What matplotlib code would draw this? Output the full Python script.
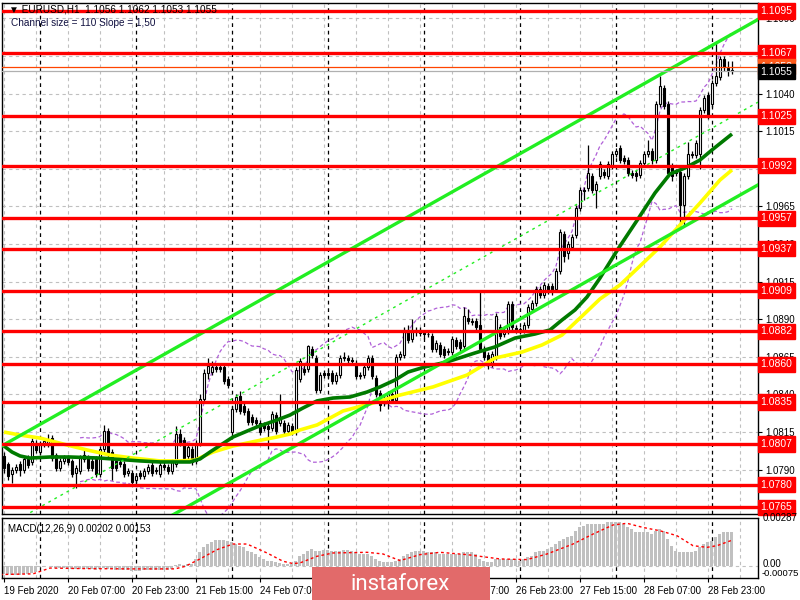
import numpy as np
import pandas as pd
import matplotlib
matplotlib.use("Agg")
import matplotlib.pyplot as plt
from matplotlib.transforms import blended_transform_factory
from matplotlib.patches import Rectangle

plt.rcParams['font.family'] = ['Liberation Sans', 'DejaVu Sans']

# ---------------- data ----------------
opens = [1.0799,1.0794,1.0787,1.0790,1.0794,1.0790,1.0797,1.0795,1.0808,1.0802,
         1.0807,1.0807,1.0811,1.0800,1.0791,1.0796,1.0798,1.0796,1.0788,1.0789,
         1.0797,1.0798,1.0796,1.0797,1.0787,1.0804,1.0816,1.0802,1.0796,1.0795,
         1.0794,1.0788,1.0788,1.0783,1.0788,1.0786,1.0789,1.0793,1.0790,1.0787,
         1.0793,1.0792,1.0789,1.0794,1.0814,1.0810,1.0799,1.0804,1.0796,1.0808,
         1.0837,1.0854,1.0855,1.0858,1.0858,1.0858,1.0850,1.0815,1.0830,1.0839,
         1.0832,1.0829,1.0825,1.0823,1.0821,1.0820,1.0819,1.0818,1.0826,1.0821,
         1.0821,1.0816,1.0819,1.0815,1.0850,1.0857,1.0857,1.0870,1.0864,1.0843,
         1.0854,1.0854,1.0854,1.0849,1.0853,1.0864,1.0864,1.0863,1.0861,1.0853,
         1.0853,1.0858,1.0864,1.0851,1.0841,1.0835,1.0835,1.0840,1.0836,1.0865,
         1.0866,1.0883,1.0877,1.0882,1.0883,1.0881,1.0880,1.0879,1.0870,1.0873,
         1.0870,1.0868,1.0868,1.0876,1.0875,1.0872,1.0891,1.0889,1.0889,1.0886,
         1.0870,1.0866,1.0861,1.0865,1.0885,1.0880,1.0882,1.0900,1.0884,1.0883,
         1.0883,1.0886,1.0897,1.0901,1.0910,1.0906,1.0912,1.0912,1.0910,1.0922,
         1.0947,1.0934,1.0938,1.0946,1.0964,1.0976,1.0977,1.0985,1.0976,1.0985,
         1.0988,1.0985,1.0992,1.1000,1.1004,1.0997,1.0996,1.0987,1.0987,1.0986,
         1.0994,1.1000,1.1002,1.0996,1.1033,1.1044,1.1033,1.0992,1.0988,1.0988,
         1.0966,1.0985,1.1000,1.0999,1.1000,1.1029,1.1039,1.1033,1.1047,1.1051,
         1.1063,1.1057,1.1056]
highs = [1.0802,1.0795,1.0792,1.0794,1.0796,1.0799,1.0800,1.0811,1.0810,1.0809,
         1.0810,1.0814,1.0813,1.0801,1.0798,1.0800,1.0800,1.0797,1.0793,1.0800,
         1.0803,1.0800,1.0798,1.0799,1.0806,1.0820,1.0818,1.0804,1.0798,1.0797,
         1.0796,1.0791,1.0790,1.0788,1.0790,1.0791,1.0794,1.0795,1.0792,1.0795,
         1.0795,1.0794,1.0797,1.0819,1.0817,1.0812,1.0807,1.0806,1.0810,1.0840,
         1.0857,1.0864,1.0862,1.0860,1.0860,1.0860,1.0852,1.0832,1.0840,1.0842,
         1.0834,1.0831,1.0827,1.0825,1.0823,1.0822,1.0821,1.0829,1.0828,1.0840,
         1.0823,1.0822,1.0821,1.0858,1.0864,1.0860,1.0873,1.0872,1.0866,1.0855,
         1.0856,1.0856,1.0856,1.0855,1.0866,1.0868,1.0866,1.0865,1.0863,1.0855,
         1.0860,1.0866,1.0866,1.0853,1.0843,1.0839,1.0842,1.0842,1.0867,1.0869,
         1.0885,1.0886,1.0890,1.0885,1.0885,1.0883,1.0882,1.0881,1.0876,1.0875,
         1.0872,1.0871,1.0879,1.0878,1.0877,1.0898,1.0897,1.0891,1.0891,1.0909,
         1.0872,1.0868,1.0869,1.0894,1.0887,1.0884,1.0902,1.0902,1.0886,1.0885,
         1.0888,1.0900,1.0903,1.0912,1.0912,1.0915,1.0914,1.0914,1.0924,1.0950,
         1.0949,1.0942,1.0947,1.0966,1.0978,1.0978,1.1006,1.0987,1.0982,1.0995,
         1.0990,1.0995,1.1002,1.1004,1.1006,1.0999,1.0998,1.0989,1.0989,1.0996,
         1.1002,1.1009,1.1004,1.1035,1.1052,1.1046,1.1035,1.0994,1.0990,1.0990,
         1.0987,1.1008,1.1002,1.1009,1.1031,1.1039,1.1041,1.1049,1.1074,1.1065,
         1.1065,1.1062,1.1062]
lows = [1.0788,1.0783,1.0781,1.0788,1.0786,1.0788,1.0791,1.0793,1.0801,1.0800,
        1.0805,1.0805,1.0796,1.0789,1.0789,1.0794,1.0793,1.0785,1.0778,1.0787,
        1.0795,1.0789,1.0789,1.0785,1.0785,1.0802,1.0798,1.0783,1.0789,1.0792,
        1.0785,1.0786,1.0780,1.0781,1.0784,1.0784,1.0787,1.0786,1.0787,1.0785,
        1.0790,1.0787,1.0787,1.0792,1.0806,1.0796,1.0797,1.0793,1.0794,1.0806,
        1.0835,1.0850,1.0853,1.0855,1.0855,1.0847,1.0844,1.0812,1.0828,1.0827,
        1.0826,1.0820,1.0820,1.0819,1.0813,1.0816,1.0804,1.0816,1.0814,1.0819,
        1.0814,1.0814,1.0813,1.0813,1.0848,1.0853,1.0855,1.0864,1.0841,1.0841,
        1.0851,1.0851,1.0847,1.0847,1.0851,1.0862,1.0861,1.0860,1.0850,1.0850,
        1.0851,1.0856,1.0850,1.0838,1.0829,1.0832,1.0830,1.0834,1.0834,1.0863,
        1.0864,1.0874,1.0875,1.0879,1.0879,1.0877,1.0878,1.0868,1.0868,1.0865,
        1.0864,1.0866,1.0866,1.0870,1.0869,1.0870,1.0887,1.0886,1.0883,1.0868,
        1.0863,1.0857,1.0858,1.0863,1.0877,1.0878,1.0880,1.0883,1.0881,1.0881,
        1.0881,1.0884,1.0895,1.0899,1.0904,1.0904,1.0907,1.0906,1.0908,1.0920,
        1.0928,1.0930,1.0936,1.0944,1.0962,1.0969,1.0975,1.0974,1.0964,1.0983,
        1.0984,1.0983,1.0990,1.0998,1.0994,1.0993,1.0985,1.0984,1.0982,1.0984,
        1.0992,1.0998,1.0993,1.0994,1.1031,1.1030,1.0985,1.0982,1.0985,1.0950,
        1.0952,1.0983,1.0997,1.0997,1.0990,1.1027,1.1023,1.1031,1.1045,1.1049,
        1.1055,1.1052,1.1053]
closes = [1.0791,1.0786,1.0790,1.0792,1.0790,1.0797,1.0793,1.0809,1.0803,1.0807,
          1.0809,1.0810,1.0798,1.0791,1.0796,1.0798,1.0795,1.0787,1.0791,1.0798,
          1.0800,1.0791,1.0791,1.0787,1.0804,1.0816,1.0800,1.0791,1.0791,1.0794,
          1.0787,1.0789,1.0782,1.0786,1.0786,1.0789,1.0792,1.0788,1.0789,1.0793,
          1.0792,1.0789,1.0795,1.0814,1.0808,1.0798,1.0805,1.0795,1.0808,1.0837,
          1.0854,1.0859,1.0858,1.0857,1.0857,1.0849,1.0846,1.0830,1.0838,1.0829,
          1.0828,1.0822,1.0822,1.0821,1.0815,1.0818,1.0817,1.0827,1.0816,1.0825,
          1.0816,1.0820,1.0815,1.0856,1.0862,1.0855,1.0872,1.0866,1.0843,1.0853,
          1.0853,1.0853,1.0849,1.0853,1.0864,1.0865,1.0863,1.0862,1.0852,1.0852,
          1.0858,1.0864,1.0852,1.0840,1.0833,1.0837,1.0840,1.0836,1.0865,1.0867,
          1.0883,1.0876,1.0882,1.0882,1.0881,1.0880,1.0880,1.0870,1.0874,1.0867,
          1.0866,1.0869,1.0877,1.0872,1.0871,1.0892,1.0889,1.0888,1.0885,1.0870,
          1.0865,1.0860,1.0867,1.0892,1.0879,1.0882,1.0900,1.0885,1.0883,1.0883,
          1.0886,1.0898,1.0901,1.0910,1.0906,1.0913,1.0909,1.0908,1.0922,1.0948,
          1.0932,1.0940,1.0945,1.0964,1.0976,1.0975,1.0987,1.0976,1.0980,1.0993,
          1.0986,1.0993,1.1000,1.1002,1.0996,1.0995,1.0987,1.0986,1.0985,1.0994,
          1.1000,1.1002,1.0996,1.1033,1.1045,1.1032,1.0987,1.0985,1.0987,1.0966,
          1.0985,1.1000,1.0999,1.1007,1.1029,1.1037,1.1026,1.1047,1.1052,1.1063,
          1.1058,1.1056,1.1055]

# moving averages (vertices: bar index, price)
ma_green_bars = [0,2,4,6.5,11.5,16.5,24,34,39,46.5,49,51.5,57.25,63.25,68.25,71.5,
                 74.75,78.25,82.25,86.5,90.75,94,97.75,101,105.25,110.75,117.75,
                 122.75,127.75,132.75,136.5,139.5,142.75,145.75,149,153.5,158.5,
                 162.75,166.5,170.25,174,177,179.5,182]
ma_green_vals = [1.08057,1.08017,1.07991,1.07977,1.07984,1.07984,1.07977,1.07958,
                 1.07951,1.07951,1.07971,1.08017,1.08117,1.08184,1.08230,1.08263,
                 1.08310,1.08357,1.08376,1.08383,1.08416,1.08450,1.08496,1.08549,
                 1.08583,1.08616,1.08676,1.08716,1.08775,1.08802,1.08829,1.08895,
                 1.08962,1.09048,1.09174,1.09367,1.09567,1.09740,1.09866,1.09906,
                 1.09959,1.10026,1.10079,1.10132]
ma_yellow_bars = [0,4,9,15.75,20.75,26.5,32.25,39,44,47.75,52.25,57.25,63.25,68.25,
                  71.5,74,78.25,81.5,84.75,92.25,99,107.25,115.75,122.75,129.5,134.5,
                  139.5,144,149,154,159,164,169,174,179,182]
ma_yellow_vals = [1.08150,1.08130,1.08110,1.08064,1.08031,1.07997,1.07977,1.07958,
                  1.07958,1.07964,1.08017,1.08057,1.08091,1.08117,1.08137,1.08164,
                  1.08197,1.08243,1.08290,1.08343,1.08396,1.08450,1.08529,1.08642,
                  1.08682,1.08729,1.08795,1.08908,1.09035,1.09128,1.09254,1.09381,
                  1.09527,1.09673,1.09826,1.09893]

# equidistant channel: size 110 pips, slope 1.50 pips per bar
channel_start_bar = -1.0
channel_end_bar = 188.5
channel_start_top = 1.08051
channel_slope = 0.000150
channel_size = 0.0110

# support / resistance levels
levels = [1.1095,1.1067,1.1025,1.0992,1.0957,1.0937,1.0909,1.0882,1.0860,
          1.0835,1.0807,1.0780,1.0765]
ask_price = 1.1058
bid_price = 1.1055

price_ticks = [1.0765,1.0790,1.0815,1.0840,1.0865,1.0890,1.0915,1.0940,1.0965,
               1.0990,1.1015,1.1040,1.1065,1.1090]

# MACD main (histogram) per bar
macd = [-0.00050,-0.00052,-0.00054,-0.00055,-0.00054,-0.00052,-0.00050,-0.00045,-0.00040,-0.00010,
        -0.00008,-0.00005,-0.00008,-0.00012,-0.00015,-0.00015,-0.00018,-0.00020,-0.00022,-0.00020,
        -0.00018,-0.00020,-0.00022,-0.00024,-0.00020,-0.00015,-0.00018,-0.00022,-0.00024,-0.00025,
        -0.00026,-0.00028,-0.00030,-0.00030,-0.00030,-0.00029,-0.00028,-0.00028,-0.00028,-0.00027,
        -0.00026,-0.00026,-0.00022,0.00005,0.00008,0.00006,0.00008,0.00010,0.00040,0.00080,
        0.00110,0.00130,0.00145,0.00152,0.00157,0.00157,0.00150,0.00140,0.00130,0.00120,
        0.00110,0.00090,0.00080,0.00070,0.00050,0.00040,0.00030,0.00030,0.00020,0.00015,
        0.00010,0.00010,0.00010,0.00030,0.00060,0.00070,0.00090,0.00100,0.00090,0.00090,
        0.00095,0.00095,0.00090,0.00090,0.00090,0.00095,0.00095,0.00090,0.00080,0.00070,
        0.00070,0.00070,0.00060,0.00040,0.00030,0.00020,0.00020,0.00020,0.00030,0.00040,
        0.00060,0.00070,0.00080,0.00090,0.00090,0.00090,0.00080,0.00080,0.00080,0.00070,
        0.00070,0.00070,0.00070,0.00070,0.00070,0.00080,0.00080,0.00080,0.00070,0.00040,
        0.00030,0.00020,0.00020,0.00040,0.00040,0.00040,0.00040,0.00040,0.00040,0.00030,
        0.00040,0.00050,0.00060,0.00080,0.00090,0.00090,0.00100,0.00110,0.00130,0.00150,
        0.00160,0.00170,0.00180,0.00210,0.00230,0.00240,0.00250,0.00250,0.00250,0.00250,
        0.00250,0.00260,0.00260,0.00260,0.00260,0.00250,0.00230,0.00220,0.00200,0.00200,
        0.00200,0.00200,0.00190,0.00210,0.00220,0.00210,0.00160,0.00120,0.00090,0.00080,
        0.00080,0.00080,0.00080,0.00090,0.00110,0.00130,0.00140,0.00150,0.00170,0.00190,
        0.00200,0.00200,0.00202]
# MACD signal line vertices (bar index, value)
signal_bars = [-1,7.25,11.5,19,31.5,42.75,45.25,49,53.25,57.25,60.75,65.75,69.75,
               72.25,74,78.25,82.25,90.75,94.75,99,104,109,115.75,124,130.75,135.75,
               142.25,147.25,152.25,155.75,159.75,164,168.25,172.25,175.75,178.25,182]
signal_vals = [-0.00054,-0.00050,-0.00015,-0.00018,-0.00020,-0.00020,-0.00005,0.00040,
               0.00096,0.00130,0.00130,0.00076,0.00026,0.00012,0.00016,0.00056,0.00076,
               0.00080,0.00070,0.00030,0.00066,0.00080,0.00066,0.00040,0.00036,0.00070,
               0.00130,0.00190,0.00245,0.00255,0.00230,0.00210,0.00180,0.00120,0.00110,
               0.00120,0.00153]

date_label_bars = [0,16,32,48,64,80,96,112,128,144,160,176]
date_labels = ["19 Feb 2020","20 Feb 07:00","20 Feb 23:00","21 Feb 15:00",
               "24 Feb 07:00","24 Feb 23:00","25 Feb 15:00","26 Feb 07:00",
               "26 Feb 23:00","27 Feb 15:00","28 Feb 07:00","28 Feb 23:00"]
day_separator_bars = [9,33,57,81,105,129,153,177]
grid_bars = list(range(0, 185, 8))

# ---------------- figure ----------------
W, H = 800, 600
fig = plt.figure(figsize=(8, 6), dpi=100)
fig.patch.set_facecolor('white')
ax = fig.add_axes([2/W, (H-514)/H, 756/W, 511/H])
ax2 = fig.add_axes([2/W, (H-578)/H, 756/W, 60/H])

xmin, xmax = -0.5, 188.5
ax.set_xlim(xmin, xmax)
ax2.set_xlim(xmin, xmax)
ax.set_ylim(1.07605, 1.11003)
ax2.set_ylim(-0.00075, 0.00287)

n = len(closes)
idx = np.arange(n)
o = np.array(opens); h = np.array(highs); l = np.array(lows); c = np.array(closes)

gridc = '#c0c0c0'
for a in (ax, ax2):
    for gb in grid_bars:
        a.axvline(gb, color=gridc, lw=0.8, ls=(0, (3, 3)), zorder=0.5)
    for db in day_separator_bars:
        a.axvline(db, color='black', lw=0.9, ls=(0, (3, 3)), zorder=0.6)
for pt in price_ticks:
    ax.axhline(pt, color=gridc, lw=0.8, ls=(0, (3, 3)), zorder=0.5)
ax2.axhline(0, color=gridc, lw=0.8, ls=(0, (3, 3)), zorder=0.5)

# Bollinger bands (20, 2) from closes
s = pd.Series(closes)
mid = s.rolling(20).mean()
sd = s.rolling(20).std(ddof=0)
ax.plot(idx, mid + 2*sd, color='#b060d8', lw=0.9, ls=(0, (3, 2)), zorder=1)
ax.plot(idx, mid - 2*sd, color='#b060d8', lw=0.9, ls=(0, (3, 2)), zorder=1)

# candles
up = c >= o
ax.vlines(idx, l, h, color='black', lw=0.9, zorder=3)
bottoms = np.minimum(o, c)
heights = np.maximum(np.abs(c - o), 0.00002)
ax.bar(idx[up], heights[up], bottom=bottoms[up], width=0.7, color='white',
       edgecolor='black', lw=0.8, zorder=3.1)
ax.bar(idx[~up], heights[~up], bottom=bottoms[~up], width=0.7, color='black',
       edgecolor='black', lw=0.8, zorder=3.1)

# moving averages
ax.plot(ma_yellow_bars, ma_yellow_vals, color='#ffff00', lw=2.6, zorder=4,
        solid_capstyle='butt')
ax.plot(ma_green_bars, ma_green_vals, color='#007a00', lw=2.6, zorder=4.1,
        solid_capstyle='butt')

# channel
cx = np.array([channel_start_bar, channel_end_bar])
top = channel_start_top + channel_slope * (cx - channel_start_bar)
ax.plot(cx, top, color='#22ee22', lw=2.4, zorder=4.5)
ax.plot(cx, top - channel_size, color='#22ee22', lw=2.4, zorder=4.5)
ax.plot(cx, top - channel_size / 2, color='#22ee22', lw=1.0,
        ls=(0, (2, 3)), zorder=4.5)

# levels
for lv in levels:
    ax.axhline(lv, color='#ff0000', lw=2.4, zorder=5)
ax.axhline(ask_price, color='#ff4500', lw=0.9, zorder=5)
ax.axhline(bid_price, color='#b0b0b0', lw=0.9, zorder=5)

# axes styling
for a in (ax, ax2):
    for sp in a.spines.values():
        sp.set_color('black'); sp.set_linewidth(1.0)
ax.set_xticks([])
ax.yaxis.tick_right()
ax.set_yticks(price_ticks)
ax.set_yticklabels([f"{p:.4f}" for p in price_ticks])
ax.tick_params(axis='y', length=3, width=0.8, labelsize=7, pad=2, colors='black')

trans = blended_transform_factory(ax.transAxes, ax.transData)
for lv in levels:
    ax.text(1.0035, lv, f"{lv:.4f}", transform=trans, ha='left', va='center',
            fontsize=7.5, color='white', clip_on=False, zorder=10,
            bbox=dict(boxstyle='square,pad=0.25', facecolor='#ff0000',
                      edgecolor='#ff0000'))
ax.text(1.0035, ask_price, f"{ask_price:.4f}", transform=trans, ha='left',
        va='center', fontsize=7.5, color='white', clip_on=False, zorder=10,
        bbox=dict(boxstyle='square,pad=0.25', facecolor='#ff5a1a', edgecolor='#ff5a1a'))
ax.text(1.0035, bid_price - 0.00005, f"{bid_price:.4f}", transform=trans, ha='left',
        va='center', fontsize=7.5, color='white', clip_on=False, zorder=11,
        bbox=dict(boxstyle='square,pad=0.25', facecolor='black', edgecolor='black'))

# MACD panel
ax2.bar(idx, macd, width=0.75, color='#c0c0c0', zorder=2)
ax2.plot(signal_bars, signal_vals, color='#ff0000', lw=1.0, ls=(0, (2, 2)), zorder=3)
ax2.set_yticks([])
ax2.set_xticks(date_label_bars)
ax2.set_xticklabels(date_labels, ha='left')
ax2.tick_params(axis='x', length=3, width=0.8, labelsize=7, pad=3)
t2 = blended_transform_factory(ax2.transAxes, ax2.transData)
ax2.text(1.006, 0.00287, "0.00287", transform=t2, ha='left', va='center',
         fontsize=7, clip_on=False)
ax2.text(1.006, 0.00012, "0.00", transform=t2, ha='left', va='center',
         fontsize=7, clip_on=False)
ax2.text(1.005, -0.00050, "-0.00075", transform=t2, ha='left', va='center',
         fontsize=6.8, clip_on=False)
ax2.text(0.008, 0.90, "MACD(12,26,9) 0.00202 0.00153", transform=ax2.transAxes,
         ha='left', va='top', fontsize=7)

# header
fig.text(9/W, 1 - 10/H, "\u25bc EURUSD,H1  1.1056 1.1062 1.1053 1.1055",
         ha='left', va='center', fontsize=7.2, color='black')
fig.text(11/W, 1 - 23/H, "Channel size = 110 Slope = 1,50", ha='left',
         va='center', fontsize=7.2, color='#101040')

# watermark
fig.patches.append(Rectangle((312/W, 0), 178/W, 33/H, transform=fig.transFigure,
                             facecolor='#e26a6a', edgecolor='none', zorder=20))
fig.text(400/W, 16/H, "instaforex", ha='center', va='center', fontsize=16,
         color='white', zorder=21, family=['Roboto', 'DejaVu Sans'])

fig.savefig("out.png", dpi=100)
